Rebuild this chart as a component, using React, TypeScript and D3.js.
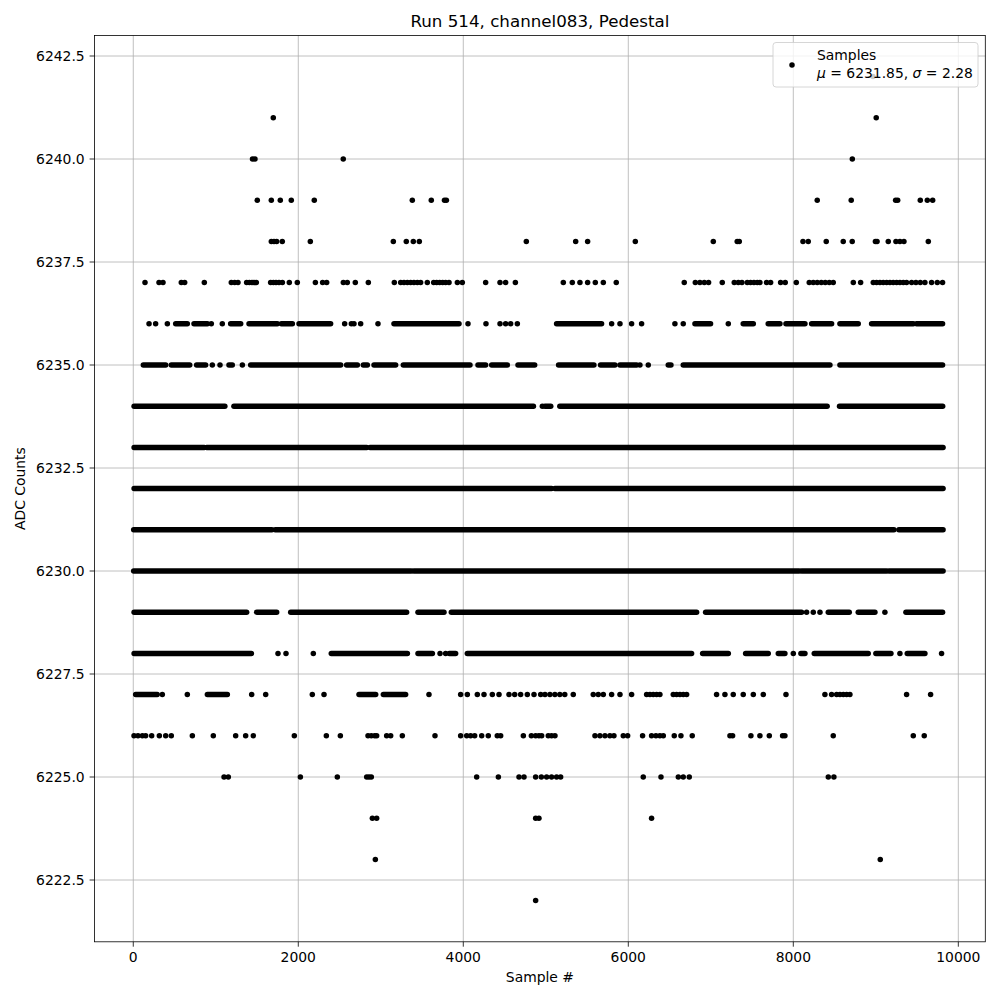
import React from 'react';
import * as d3 from 'd3';

// sample positions, grouped by ADC level
// dotsNNNN = isolated samples, runsNNNN = saturated stretches [from, to]
const dots6242 = [8965];
const dots6241 = [1697, 9005];
const dots6240 = [1445, 1475, 2545, 8715];
const dots6239 = [1503, 1673, 1782, 1915, 2194, 3382, 3612, 3772, 3795, 8290, 8702, 9240, 9265, 9539, 9624, 9689];
const dots6238 = [1673, 1706, 1738, 1806, 2146, 3152, 3309, 3394, 3467, 4764, 5362, 5507, 6085, 7030, 7320, 7345,
  8117, 8181, 8399, 8605, 8714, 8995, 9015, 9151, 9244, 9292, 9341, 9636];
const dots6237 = [142, 312, 360, 582, 623, 861, 1188, 1229, 1269, 1374, 1407, 1439, 1463, 1491, 1665, 1698, 1730,
  1766, 1807, 1891, 1988, 2207, 2295, 2344, 2546, 2594, 2691, 2849, 3164, 3241, 3281, 3322, 3362, 3402, 3443, 3483,
  3564, 3641, 3677, 3714, 3750, 3786, 3827, 3928, 3988, 4271, 4445, 4513, 4631, 5212, 5321, 5414, 5507, 5600, 5697,
  5854, 6678, 6812, 6868, 6921, 6973, 7139, 7284, 7333, 7377, 7442, 7482, 7523, 7563, 7595, 7676, 7725, 7846, 7902,
  8036, 8193, 8242, 8290, 8339, 8387, 8436, 8484, 8727, 8816, 8969, 9009, 9050, 9090, 9131, 9171, 9211, 9252, 9292,
  9333, 9373, 9434, 9486, 9539, 9595, 9676, 9745, 9809];
const dots6236 = [191, 271, 413, 946, 1079, 2562, 2643, 2675, 2756, 2966, 4057, 4275, 4445, 4513, 4574, 4655,
  5798, 5899, 6040, 6161, 6565, 6666, 7212];
const runs6236 = [[514, 655], [736, 898], [1180, 1302], [1403, 1746], [1795, 1928], [2009, 2392], [3160, 3948],
  [5131, 5676], [6808, 6997], [7393, 7515], [7696, 7838], [7911, 8141], [8222, 8464], [8565, 8787], [8949, 9454],
  [9494, 9809]];
const dots6235 = [958, 1051, 1322, 6141, 6242];
const runs6235 = [[122, 393], [461, 684], [768, 877], [1160, 1200], [1423, 2514], [2586, 2716], [2788, 2837],
  [2918, 3180], [3273, 4081], [4178, 4271], [4344, 4534], [4663, 4865], [5155, 5583], [5664, 5838], [5899, 6101],
  [6484, 6517], [6666, 8444], [8565, 9809]];
const dots6234 = [4958];
const runs6234 = [[10, 1110], [1220, 4850], [4990, 5060], [5170, 8410], [8560, 9810]];
const runs6233 = [[10, 860], [890, 2830], [2870, 9815]];
const runs6232 = [[10, 5070], [5110, 9815]];
const runs6231 = [[5, 1680], [1720, 9220], [9280, 9815]];
const runs6230 = [[5, 1680], [1705, 3370], [3400, 8070], [8100, 9130], [9160, 9815]];
const dots6229 = [8161, 8242, 8323, 9110];
const runs6229 = [[10, 1374], [1496, 1738], [1908, 3313], [3451, 3766], [3855, 6828], [6937, 8100], [8424, 8678],
  [8787, 8989], [9365, 9809]];
const dots6228 = [1754, 1851, 2182, 3718, 3786, 8000, 9292, 9797];
const runs6228 = [[10, 1431], [2400, 3322], [3451, 3625], [3831, 3907], [4049, 6767], [6901, 7212], [7422, 7696],
  [7818, 7898], [8092, 8141], [8254, 8908], [9001, 9183], [9381, 9595]];
const dots6227 = [352, 655, 1435, 1605, 2170, 2312, 3584, 3968, 4049, 4170, 4251, 4352, 4433, 4554, 4623, 4695,
  4776, 4857, 4938, 4990, 5050, 5110, 5170, 5230, 5333, 5575, 5636, 5697, 5798, 5899, 6040, 6222, 6262, 6302, 6343,
  6383, 6545, 6585, 6626, 6666, 6707, 7070, 7171, 7272, 7393, 7515, 7636, 7911, 8383, 8464, 8525, 8565, 8606, 8646,
  8686, 9373, 9664];
const runs6227 = [[29, 290], [898, 1140], [2736, 2938], [3031, 3301]];
const dots6226 = [9, 57, 110, 150, 223, 316, 393, 461, 716, 970, 1241, 1362, 1455, 1952, 2340, 2510, 2845, 2885,
  2926, 2950, 3071, 3120, 3261, 3657, 3968, 4041, 4089, 4138, 4223, 4303, 4412, 4453, 4728, 4825, 4877, 4917, 4950,
  5030, 5070, 5111, 5596, 5656, 5717, 5777, 5826, 5939, 5992, 6173, 6282, 6335, 6383, 6424, 6557, 6638, 6775, 7232,
  7264, 7486, 7595, 7709, 7870, 7898, 8484, 9454, 9587];
const dots6225 = [1100, 1152, 2025, 2473, 2829, 2857, 2885, 4162, 4425, 4675, 4736, 4877, 4946, 5010, 5070, 5131,
  5180, 6181, 6396, 6606, 6666, 6739, 8424, 8492];
const dots6224 = [2898, 2950, 4877, 4917, 6282];
const dots6223 = [2934, 9054];
const dots6222 = [4877];

const xTicks = [0, 2000, 4000, 6000, 8000, 10000];
const yTicks = [6222.5, 6225, 6227.5, 6230, 6232.5, 6235, 6237.5, 6240, 6242.5];
const legendLines = ['Samples'];
const meanValue = 6231.85;
const sigmaValue = 2.28;

const rows: { level: number; dots: number[]; runs: number[][] }[] = [
  { level: 6242, dots: dots6242, runs: [] },
  { level: 6241, dots: dots6241, runs: [] },
  { level: 6240, dots: dots6240, runs: [] },
  { level: 6239, dots: dots6239, runs: [] },
  { level: 6238, dots: dots6238, runs: [] },
  { level: 6237, dots: dots6237, runs: [] },
  { level: 6236, dots: dots6236, runs: runs6236 },
  { level: 6235, dots: dots6235, runs: runs6235 },
  { level: 6234, dots: dots6234, runs: runs6234 },
  { level: 6233, dots: [], runs: runs6233 },
  { level: 6232, dots: [], runs: runs6232 },
  { level: 6231, dots: [], runs: runs6231 },
  { level: 6230, dots: [], runs: runs6230 },
  { level: 6229, dots: dots6229, runs: runs6229 },
  { level: 6228, dots: dots6228, runs: runs6228 },
  { level: 6227, dots: dots6227, runs: runs6227 },
  { level: 6226, dots: dots6226, runs: [] },
  { level: 6225, dots: dots6225, runs: [] },
  { level: 6224, dots: dots6224, runs: [] },
  { level: 6223, dots: dots6223, runs: [] },
  { level: 6222, dots: dots6222, runs: [] },
];

const W = 1000;
const H = 1000;
const left = 94.5, right = 985.3, top = 35.4, bottom = 941.8;
const font = 'DejaVu Sans, sans-serif';
const R = 2.75;

export default function App() {
  const x = d3.scaleLinear().domain([-470, 10327]).range([left, right]);
  const y = d3.scaleLinear().domain([6221, 6243]).range([bottom, top]);

  return (
    <svg width={W} height={H} style={{ position: 'absolute', left: 0, top: 0, background: '#fff' }}
      fontFamily={font}>
      <rect x={0} y={0} width={W} height={H} fill="#fff" />
      {/* grid */}
      <g stroke="#b0b0b0" strokeWidth={0.8}>
        {xTicks.map(t => <line key={'gx' + t} x1={x(t)} x2={x(t)} y1={top} y2={bottom} />)}
        {yTicks.map(t => <line key={'gy' + t} x1={left} x2={right} y1={y(t)} y2={y(t)} />)}
      </g>
      {/* samples */}
      <g>
        {rows.map(r => (
          <g key={r.level}>
            {r.runs.map((s, i) => (
              <line key={'r' + i} x1={x(s[0])} x2={x(s[1])} y1={y(r.level)} y2={y(r.level)}
                stroke="#000" strokeWidth={R * 2} strokeLinecap="round" />
            ))}
            {r.dots.map((d, i) => (
              <circle key={'d' + i} cx={x(d)} cy={y(r.level)} r={R} fill="#000" />
            ))}
          </g>
        ))}
      </g>
      {/* spines */}
      <rect x={left} y={top} width={right - left} height={bottom - top} fill="none" stroke="#000" strokeWidth={0.8} />
      {/* x axis */}
      <g fontSize={13.9} textAnchor="middle">
        {xTicks.map(t => (
          <g key={'tx' + t}>
            <line x1={x(t)} x2={x(t)} y1={bottom} y2={bottom + 4.9} stroke="#000" strokeWidth={0.8} />
            <text x={x(t)} y={bottom + 9.8} dominantBaseline="hanging">{t}</text>
          </g>
        ))}
      </g>
      {/* y axis */}
      <g fontSize={13.9} textAnchor="end">
        {yTicks.map(t => (
          <g key={'ty' + t}>
            <line x1={left - 4.9} x2={left} y1={y(t)} y2={y(t)} stroke="#000" strokeWidth={0.8} />
            <text x={left - 9.8} y={y(t)} dominantBaseline="central">{t.toFixed(1)}</text>
          </g>
        ))}
      </g>
      <text x={(left + right) / 2} y={982} fontSize={13.9} textAnchor="middle">Sample #</text>
      <text transform={`translate(25,${(top + bottom) / 2}) rotate(-90)`} fontSize={13.9} textAnchor="middle">ADC Counts</text>
      <text x={(left + right) / 2} y={27} fontSize={16.7} textAnchor="middle">Run 514, channel083, Pedestal</text>
      {/* legend */}
      <g>
        <rect x={773} y={42.5} width={205} height={44.5} rx={3} fill="#fff" fillOpacity={0.8}
          stroke="#cccccc" strokeWidth={0.8} />
        <circle cx={792} cy={65} r={R} fill="#000" />
        <text x={817} y={59.5} fontSize={13.9}>{legendLines[0]}</text>
        <text x={817} y={78} fontSize={13.9}>
          <tspan fontStyle="italic">μ</tspan>
          <tspan>{` = ${meanValue.toFixed(2)}, `}</tspan>
          <tspan fontStyle="italic">σ</tspan>
          <tspan>{` = ${sigmaValue.toFixed(2)}`}</tspan>
        </text>
      </g>
    </svg>
  );
}
